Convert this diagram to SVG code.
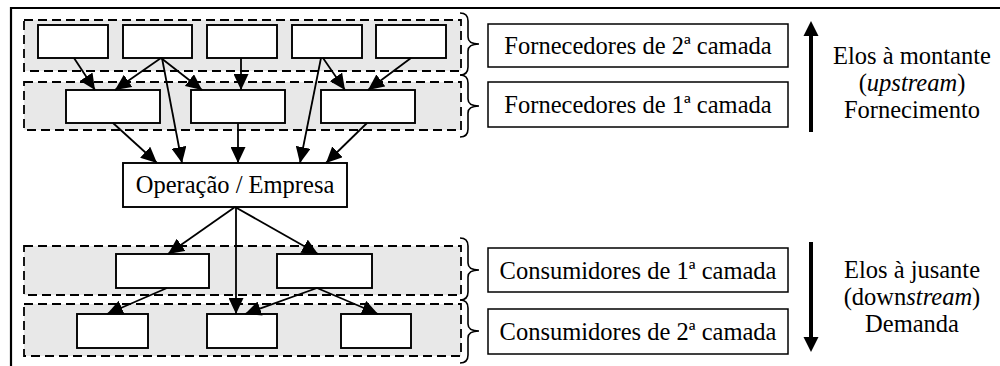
<svg xmlns="http://www.w3.org/2000/svg" width="1000" height="366" viewBox="0 0 1000 366">
<defs>
<style>
.frame{fill:none;stroke:#000;stroke-width:2.2}
.grp{fill:#e8e8e8;stroke:#000;stroke-width:1.8;stroke-dasharray:9 5}
.box{fill:#fff;stroke:#000;stroke-width:1.9}
.lbl{fill:#fff;stroke:#000;stroke-width:1.5}
.brace{fill:none;stroke:#000;stroke-width:1.6}
.t{font-family:"Liberation Serif","Times New Roman",serif;font-size:24.5px;fill:#000;text-anchor:middle}
.c line{stroke:#000;stroke-width:1.8;marker-end:url(#ah)}
.big{stroke:#000;stroke-width:4}
</style>
<marker id="ah" markerUnits="userSpaceOnUse" markerWidth="16" markerHeight="15" refX="16" refY="7.5" orient="auto">
<path d="M0,0 L16,7.5 L0,15 z" fill="#000"/>
</marker>
</defs>
<rect width="1000" height="366" fill="#fff"/>
<path class="frame" d="M11,366 L11,8 L1000,8"/>

<g id="tier2-suppliers">
<rect class="grp" x="24" y="20" width="437" height="51"/>
<rect class="box" x="38" y="25" width="70" height="33"/>
<rect class="box" x="123" y="25" width="69" height="33"/>
<rect class="box" x="207" y="25" width="70" height="33"/>
<rect class="box" x="292" y="25" width="70" height="33"/>
<rect class="box" x="376" y="25" width="70" height="33"/>
</g>
<g id="tier1-suppliers">
<rect class="grp" x="24" y="82" width="437" height="48"/>
<rect class="box" x="66" y="90" width="94" height="33"/>
<rect class="box" x="191" y="90" width="94" height="33"/>
<rect class="box" x="321" y="90" width="94" height="33"/>
</g>
<g id="operacao">
<rect class="box" x="123" y="163" width="224" height="44"/>
<text class="t" x="235" y="193">Operação / Empresa</text>
</g>
<g id="tier1-consumers">
<rect class="grp" x="24" y="246" width="437" height="49"/>
<rect class="box" x="116" y="254" width="93" height="34"/>
<rect class="box" x="277" y="254" width="95" height="34"/>
</g>
<g id="tier2-consumers">
<rect class="grp" x="24" y="304" width="437" height="52"/>
<rect class="box" x="77" y="314" width="71" height="34"/>
<rect class="box" x="207" y="314" width="70" height="34"/>
<rect class="box" x="341" y="314" width="70" height="34"/>
</g>

<g id="braces">
<path class="brace" d="M460,13 Q468,13 468,21 L468,37 Q468,44 479,44 Q468,44 468,51 L468,67 Q468,75 460,75"/>
<path class="brace" d="M460,75 Q468,75 468,83 L468,99 Q468,106 479,106 Q468,106 468,113 L468,129 Q468,137 460,137"/>
<path class="brace" d="M460,238 Q468,238 468,246 L468,263 Q468,270 479,270 Q468,270 468,277 L468,292 Q468,300 460,300"/>
<path class="brace" d="M460,300 Q468,300 468,308 L468,324 Q468,331 479,331 Q468,331 468,338 L468,355 Q468,363 460,363"/>
</g>

<g id="label-forn2">
<rect class="lbl" x="488" y="24" width="300" height="43"/>
<text class="t" x="638" y="54">Fornecedores de 2ª camada</text>
</g>
<g id="label-forn1">
<rect class="lbl" x="488" y="82" width="300" height="45"/>
<text class="t" x="638" y="113">Fornecedores de 1ª camada</text>
</g>
<g id="label-cons1">
<rect class="lbl" x="488" y="248" width="300" height="44"/>
<text class="t" x="638" y="279">Consumidores de 1ª camada</text>
</g>
<g id="label-cons2">
<rect class="lbl" x="488" y="309" width="300" height="45"/>
<text class="t" x="638" y="340">Consumidores de 2ª camada</text>
</g>

<g id="upstream">
<line class="big" x1="811" y1="132" x2="811" y2="34"/>
<path d="M803.5,36 L811,21 L818.5,36 z" fill="#000"/>
<text class="t" x="912" y="64">Elos à montante</text>
<text class="t" x="912" y="91">(<tspan font-style="italic">upstream</tspan>)</text>
<text class="t" x="912" y="118">Fornecimento</text>
</g>
<g id="downstream">
<line class="big" x1="811" y1="242" x2="811" y2="339"/>
<path d="M803.5,337 L811,352 L818.5,337 z" fill="#000"/>
<text class="t" x="912" y="278">Elos à jusante</text>
<text class="t" x="912" y="305">(down<tspan font-style="italic">stream</tspan>)</text>
<text class="t" x="912" y="332">Demanda</text>
</g>

<g id="connectors" class="c">
<line x1="74" y1="58" x2="95" y2="90"/>
<line x1="161" y1="58" x2="115" y2="90"/>
<line x1="161" y1="58" x2="202" y2="90"/>
<line x1="162" y1="58" x2="182" y2="163"/>
<line x1="241" y1="58" x2="241" y2="90"/>
<line x1="323" y1="58" x2="345" y2="90"/>
<line x1="321" y1="58" x2="300" y2="163"/>
<line x1="411" y1="58" x2="368" y2="90"/>
<line x1="113" y1="123" x2="157" y2="163"/>
<line x1="238" y1="123" x2="238" y2="163"/>
<line x1="367" y1="123" x2="326" y2="163"/>
<line x1="235" y1="207" x2="168" y2="254"/>
<line x1="235" y1="207" x2="318" y2="254"/>
<line x1="236" y1="207" x2="236" y2="314"/>
<line x1="167" y1="288" x2="107" y2="314"/>
<line x1="317" y1="288" x2="245" y2="314"/>
<line x1="317" y1="288" x2="378" y2="314"/>
</g>
</svg>
